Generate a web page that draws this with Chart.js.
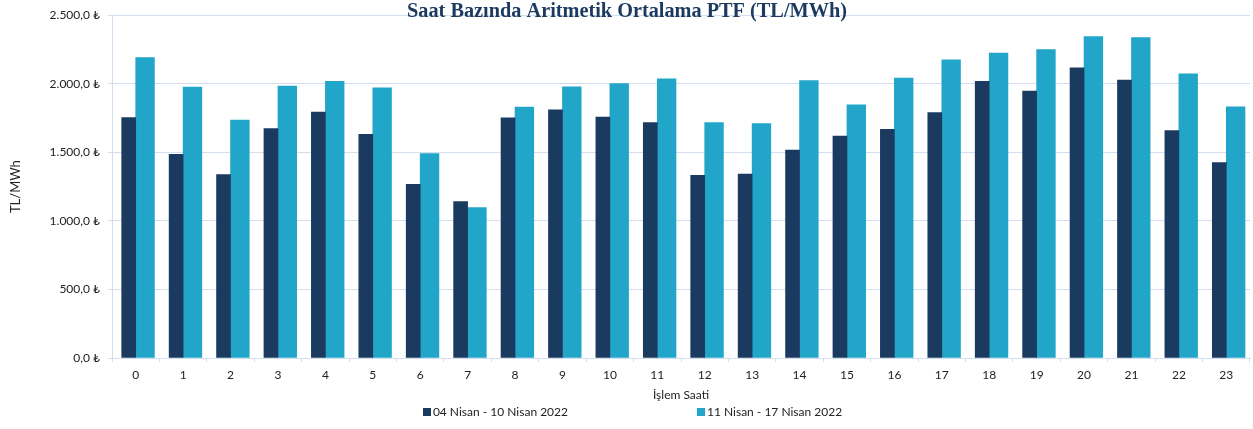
<!DOCTYPE html>
<html lang="tr">
<head>
    <meta charset="UTF-8">
    <title>Saat Bazında Aritmetik Ortalama PTF</title>
    <script src="https://cdn.jsdelivr.net/npm/chart.js"></script>
    <style>
        body {
            margin: 0;
            background: #fff;
            font-family: Lato, "DejaVu Sans", sans-serif;
        }
        .wrap {
            position: relative;
            width: 1253px;
            height: 429px;
        }
        #legend {
            position: absolute;
            left: 12px;
            right: 0;
            top: 404px;
            display: flex;
            justify-content: center;
            gap: 129px;
            font-size: 12px;
            color: #222;
        }
        #legend span.box {
            display: inline-block;
            width: 8px;
            height: 8px;
            margin-right: 2px;
            vertical-align: 0px;
        }
    </style>
</head>
<body>
    <div class="wrap">
        <canvas id="ptfChart" width="1253" height="429"></canvas>
        <div id="legend"></div>
    </div>
    <script>
        const hours = ['0','1','2','3','4','5','6','7','8','9','10','11','12','13','14','15','16','17','18','19','20','21','22','23'];
        const week1 = [1754, 1485, 1337, 1674, 1794, 1631, 1267, 1141, 1752, 1810, 1757, 1716,
                       1332, 1342, 1517, 1619, 1667, 1789, 2017, 1946, 2116, 2026, 1658, 1425];
        const week2 = [2191, 1975, 1735, 1983, 2017, 1971, 1490, 1097, 1830, 1978, 2002, 2036,
                       1716, 1709, 2024, 1847, 2041, 2175, 2223, 2250, 2344, 2337, 2073, 1832];
        const seriesNames = ['04 Nisan - 10 Nisan 2022', '11 Nisan - 17 Nisan 2022'];
        const colors = ['#1B3A60', '#21A6C9'];

        function fmtTL(v) {
            const s = v.toFixed(1).split('.');
            const intPart = s[0].replace(/\B(?=(\d{3})+(?!\d))/g, '.');
            return intPart + ',' + s[1] + ' ₺';
        }

        const titlePlugin = {
            id: 'topTitle',
            afterDraw(chart) {
                const c = chart.ctx;
                c.save();
                c.font = 'bold 20.3px "Liberation Serif", serif';
                c.fillStyle = '#1B3A5F';
                c.textAlign = 'center';
                c.textBaseline = 'alphabetic';
                c.fillText('Saat Bazında Aritmetik Ortalama PTF (TL/MWh)', 627, 17);
                c.restore();
            }
        };

        const gridColor = '#D3DEEF';
        const tickFont = { family: 'Lato, "DejaVu Sans", sans-serif', size: 12 };

        const chart = new Chart(document.getElementById('ptfChart'), {
            type: 'bar',
            data: {
                labels: hours,
                datasets: [
                    { label: seriesNames[0], data: week1, backgroundColor: colors[0], barThickness: 14 },
                    { label: seriesNames[1], data: week2, backgroundColor: colors[1], barThickness: 18.7 }
                ]
            },
            options: {
                responsive: false,
                animation: false,
                layout: { padding: { top: 15, right: 3, bottom: 27, left: 0 } },
                plugins: {
                    legend: { display: false },
                    tooltip: { enabled: false }
                },
                scales: {
                    x: {
                        offset: true,
                        grid: { display: true, drawOnChartArea: false, offset: true, tickLength: 4, color: gridColor },
                        border: { display: true, color: gridColor },
                        ticks: { color: '#222', font: tickFont, padding: 6, maxRotation: 0 },
                        title: { display: true, text: 'İşlem Saati', color: '#222', font: tickFont, padding: 0 },
                        afterFit(scale) { scale.height = 44; }
                    },
                    y: {
                        min: 0,
                        max: 2500,
                        ticks: { stepSize: 500, color: '#222', font: tickFont, padding: 8, callback: v => fmtTL(v) },
                        grid: { color: gridColor, tickLength: 4 },
                        border: { display: true, color: gridColor },
                        title: { display: true, text: 'TL/MWh', color: '#222', font: { family: 'Lato, "DejaVu Sans", sans-serif', size: 13 }, padding: { top: 8, bottom: 0 } },
                        afterFit(scale) { scale.width = 112; }
                    }
                }
            },
            plugins: [titlePlugin]
        });

        const legend = document.getElementById('legend');
        chart.data.datasets.forEach(ds => {
            const item = document.createElement('div');
            item.innerHTML = '<span class="box" style="background:' + ds.backgroundColor + '"></span>' + ds.label;
            legend.appendChild(item);
        });
    </script>
</body>
</html>
